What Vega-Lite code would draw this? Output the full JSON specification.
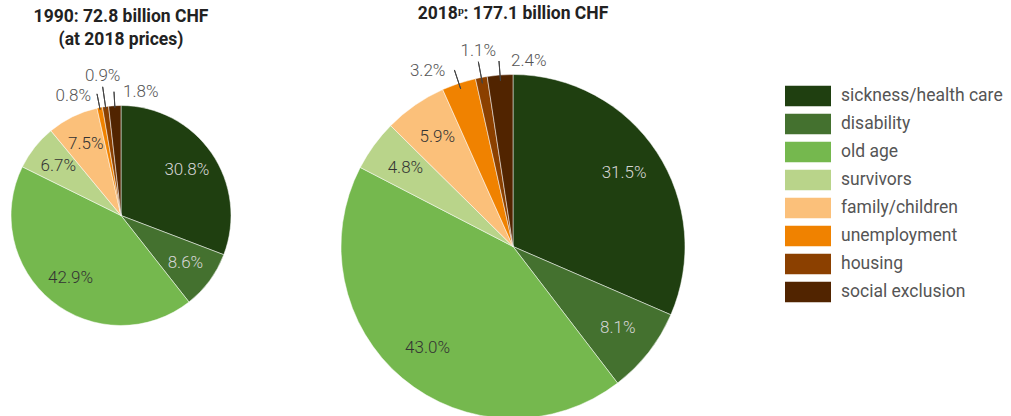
{
  "$schema": "https://vega.github.io/schema/vega-lite/v6.json",
  "padding": {"left": 0, "top": 4.5, "right": 0, "bottom": 0},
  "background": "white",
  "bounds": "flush",
  "spacing": 0,
  "config": {"view": {"stroke": null}, "font": "Roboto"},
  "datasets": {
    "y1990": [
      {"category": "sickness/health care", "share": 0.308},
      {"category": "disability", "share": 0.086},
      {"category": "old age", "share": 0.429},
      {"category": "survivors", "share": 0.067},
      {"category": "family/children", "share": 0.075},
      {"category": "unemployment", "share": 0.008},
      {"category": "housing", "share": 0.009},
      {"category": "social exclusion", "share": 0.018}
    ],
    "y2018": [
      {"category": "sickness/health care", "share": 0.315},
      {"category": "disability", "share": 0.081},
      {"category": "old age", "share": 0.430},
      {"category": "survivors", "share": 0.048},
      {"category": "family/children", "share": 0.059},
      {"category": "unemployment", "share": 0.032},
      {"category": "housing", "share": 0.011},
      {"category": "social exclusion", "share": 0.024}
    ]
  },
  "hconcat": [
    {
      "width": 242,
      "height": 284,
      "title": {"text": ["1990: 72.8 billion CHF", "(at 2018 prices)"], "fontSize": 17.5, "fontWeight": "bold", "font": "Roboto", "color": "#222", "lineHeight": 23, "offset": 17.6, "anchor": "middle", "frame": "group"},
      "data": {"name": "y1990"},
      "transform": [{"window": [{"op": "row_number", "as": "k"}]}],
      "encoding": {
        "theta": {"field": "share", "type": "quantitative", "stack": true},
        "order": {"field": "k", "type": "quantitative"}
      },
      "layer": [
        {
          "mark": {"type": "arc", "radius": 110, "stroke": "white", "strokeWidth": 0.5},
          "encoding": {
            "color": {
              "field": "category", "type": "nominal",
              "scale": {
                "domain": ["sickness/health care", "disability", "old age", "survivors", "family/children", "unemployment", "housing", "social exclusion"],
                "range": ["#1f3f10", "#44712f", "#75b84e", "#b9d48a", "#fbc07a", "#f08200", "#8b4000", "#512400"]
              },
              "legend": {"orient": "none", "legendX": 785, "legendY": 12, "title": null, "symbolType": "M-1,-0.4565H1V0.4565H-1Z", "symbolSize": 2116, "symbolStrokeWidth": 0, "symbolOpacity": 1, "clipHeight": 21, "rowPadding": 7, "labelOffset": 10, "labelFontSize": 17.5, "labelFont": "Roboto", "labelColor": "#555", "labelLimit": 300}
            }
          }
        },
        {
          "mark": {"type": "text", "radius": 80, "fontSize": 17, "fontWeight": 300, "font": "Roboto"},
          "encoding": {
            "text": {"condition": {"test": "datum.share >= 0.04", "field": "share", "type": "quantitative", "format": ".1%"}, "value": ""},
            "color": {"condition": {"test": "datum.category === 'sickness/health care' || datum.category === 'disability'", "value": "#d6d6d6"}, "value": "#333"}
          }
        },
        {
          "mark": {"type": "arc", "radius": 124, "radius2": 108, "padAngle": 3, "fill": "transparent", "strokeWidth": 1},
          "encoding": {
            "stroke": {"condition": {"test": "datum.category === 'unemployment' || datum.category === 'social exclusion'", "value": "#444"}, "value": "transparent"}
          }
        },
        {
          "mark": {"type": "arc", "radius": 130, "radius2": 108, "padAngle": 3, "fill": "transparent", "strokeWidth": 1},
          "encoding": {
            "stroke": {"condition": {"test": "datum.category === 'housing'", "value": "#444"}, "value": "transparent"}
          }
        },
        {
          "mark": {"type": "text", "radius": 124, "align": "right", "baseline": "middle", "dx": -6, "dy": 2, "fontSize": 17, "fontWeight": 300, "font": "Roboto", "color": "#555"},
          "encoding": {
            "text": {"condition": {"test": "datum.category === 'unemployment'", "field": "share", "type": "quantitative", "format": ".1%"}, "value": ""}
          }
        },
        {
          "mark": {"type": "text", "radius": 130, "align": "center", "baseline": "bottom", "dy": -2, "fontSize": 17, "fontWeight": 300, "font": "Roboto", "color": "#555"},
          "encoding": {
            "text": {"condition": {"test": "datum.category === 'housing'", "field": "share", "type": "quantitative", "format": ".1%"}, "value": ""}
          }
        },
        {
          "mark": {"type": "text", "radius": 124, "align": "left", "baseline": "middle", "dx": 9, "fontSize": 17, "fontWeight": 300, "font": "Roboto", "color": "#555"},
          "encoding": {
            "text": {"condition": {"test": "datum.category === 'social exclusion'", "field": "share", "type": "quantitative", "format": ".1%"}, "value": ""}
          }
        }
      ]
    },
    {
      "width": 542,
      "height": 346,
      "title": {"text": "2018ᵖ: 177.1 billion CHF", "fontSize": 17.5, "fontWeight": "bold", "font": "Roboto", "color": "#222", "offset": 16.1, "anchor": "middle", "frame": "group"},
      "data": {"name": "y2018"},
      "transform": [{"window": [{"op": "row_number", "as": "k"}]}],
      "encoding": {
        "theta": {"field": "share", "type": "quantitative", "stack": true},
        "order": {"field": "k", "type": "quantitative"}
      },
      "layer": [
        {
          "mark": {"type": "arc", "radius": 172, "stroke": "white", "strokeWidth": 0.5},
          "encoding": {
            "color": {
              "field": "category", "type": "nominal",
              "scale": {
                "domain": ["sickness/health care", "disability", "old age", "survivors", "family/children", "unemployment", "housing", "social exclusion"],
                "range": ["#1f3f10", "#44712f", "#75b84e", "#b9d48a", "#fbc07a", "#f08200", "#8b4000", "#512400"]
              },
              "legend": {"orient": "none", "legendX": 785, "legendY": 12, "title": null, "symbolType": "M-1,-0.4565H1V0.4565H-1Z", "symbolSize": 2116, "symbolStrokeWidth": 0, "symbolOpacity": 1, "clipHeight": 21, "rowPadding": 7, "labelOffset": 10, "labelFontSize": 17.5, "labelFont": "Roboto", "labelColor": "#555", "labelLimit": 300}
            }
          }
        },
        {
          "mark": {"type": "text", "radius": 133, "fontSize": 17, "fontWeight": 300, "font": "Roboto"},
          "encoding": {
            "text": {"condition": {"test": "datum.share >= 0.04", "field": "share", "type": "quantitative", "format": ".1%"}, "value": ""},
            "color": {"condition": {"test": "datum.category === 'sickness/health care' || datum.category === 'disability'", "value": "#d6d6d6"}, "value": "#333"}
          }
        },
        {
          "mark": {"type": "arc", "radius": 186, "radius2": 166, "padAngle": 3, "fill": "transparent", "strokeWidth": 1},
          "encoding": {
            "stroke": {"condition": {"test": "datum.category === 'unemployment' || datum.category === 'social exclusion'", "value": "#444"}, "value": "transparent"}
          }
        },
        {
          "mark": {"type": "arc", "radius": 188, "radius2": 166, "padAngle": 3, "fill": "transparent", "strokeWidth": 1},
          "encoding": {
            "stroke": {"condition": {"test": "datum.category === 'housing'", "value": "#444"}, "value": "transparent"}
          }
        },
        {
          "mark": {"type": "text", "radius": 186, "align": "right", "baseline": "middle", "dx": -9, "dy": 1, "fontSize": 17, "fontWeight": 300, "font": "Roboto", "color": "#555"},
          "encoding": {
            "text": {"condition": {"test": "datum.category === 'unemployment'", "field": "share", "type": "quantitative", "format": ".1%"}, "value": ""}
          }
        },
        {
          "mark": {"type": "text", "radius": 188, "align": "center", "baseline": "bottom", "dy": -2, "fontSize": 17, "fontWeight": 300, "font": "Roboto", "color": "#555"},
          "encoding": {
            "text": {"condition": {"test": "datum.category === 'housing'", "field": "share", "type": "quantitative", "format": ".1%"}, "value": ""}
          }
        },
        {
          "mark": {"type": "text", "radius": 186, "align": "left", "baseline": "middle", "dx": 12, "fontSize": 17, "fontWeight": 300, "font": "Roboto", "color": "#555"},
          "encoding": {
            "text": {"condition": {"test": "datum.category === 'social exclusion'", "field": "share", "type": "quantitative", "format": ".1%"}, "value": ""}
          }
        }
      ]
    }
  ],
  "resolve": {"scale": {"color": "shared"}}
}
